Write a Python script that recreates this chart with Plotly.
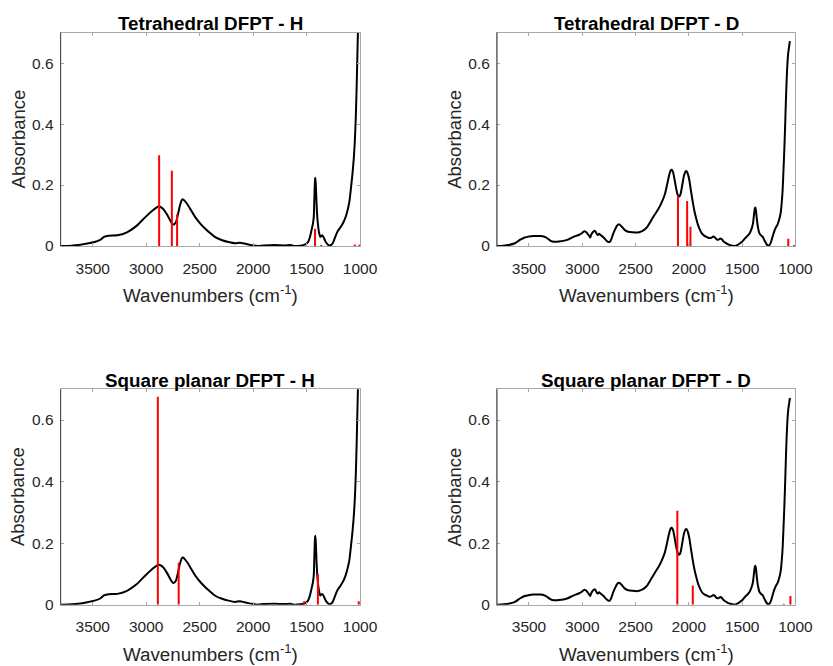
import plotly.graph_objects as go

# ---------------- data ----------------
# Experimental spectrum (H sample), wavenumber (cm-1) / absorbance
H_WAVENUMBER = [3800, 3700, 3635, 3550, 3483, 3430, 3395, 3350, 3270, 3180, 3090, 3010, 2935, 2900,
                2885, 2860, 2840, 2800, 2770, 2750, 2735, 2720, 2700, 2685, 2665, 2655, 2640, 2615,
                2580, 2540, 2490, 2445, 2400, 2355, 2290, 2230, 2170, 2125, 2080, 2045, 2000, 1960,
                1900, 1800, 1700, 1650, 1620, 1560, 1530, 1500, 1485, 1470, 1455, 1440, 1433, 1427,
                1421, 1418, 1413, 1408, 1400, 1394, 1384, 1372, 1362, 1354, 1340, 1325, 1305, 1290,
                1278, 1262, 1248, 1230, 1210, 1180, 1155, 1135, 1115, 1100, 1085, 1070, 1058, 1048,
                1040, 1032, 1026, 1020, 1015]
H_ABSORBANCE = [0.000, 0.001, 0.003, 0.008, 0.013, 0.020, 0.030, 0.034, 0.035, 0.045, 0.066, 0.094, 0.118, 0.127,
                0.130, 0.127, 0.121, 0.100, 0.080, 0.071, 0.072, 0.080, 0.108, 0.132, 0.152, 0.153, 0.148, 0.137,
                0.117, 0.094, 0.072, 0.056, 0.042, 0.029, 0.019, 0.013, 0.009, 0.011, 0.008, 0.005, 0.002, 0.000,
                0.002, 0.003, 0.002, 0.003, 0.000, 0.001, 0.003, 0.008, 0.014, 0.028, 0.050, 0.075, 0.095, 0.160,
                0.218, 0.224, 0.195, 0.150, 0.095, 0.072, 0.045, 0.030, 0.033, 0.035, 0.028, 0.016, 0.006, 0.002,
                0.002, 0.006, 0.015, 0.032, 0.048, 0.063, 0.078, 0.095, 0.120, 0.145, 0.190, 0.240, 0.290, 0.350,
                0.420, 0.520, 0.610, 0.700, 0.780]

# Experimental spectrum (D sample)
D_WAVENUMBER = [3800, 3740, 3693, 3632, 3586, 3540, 3500, 3463, 3420, 3387, 3341, 3300, 3280, 3219,
                3142, 3081, 3030, 3004, 2985, 2965, 2950, 2935, 2925, 2915, 2900, 2882, 2865, 2855,
                2842, 2825, 2800, 2775, 2755, 2740, 2725, 2710, 2690, 2675, 2660, 2645, 2625, 2600,
                2570, 2530, 2480, 2450, 2420, 2390, 2360, 2320, 2285, 2255, 2225, 2205, 2185, 2170,
                2160, 2148, 2135, 2120, 2105, 2090, 2078, 2062, 2045, 2030, 2020, 2008, 1995, 1980,
                1965, 1948, 1933, 1915, 1900, 1880, 1857, 1835, 1811, 1790, 1770, 1755, 1740, 1720,
                1705, 1690, 1675, 1658, 1635, 1612, 1590, 1566, 1545, 1520, 1495, 1474, 1450, 1428,
                1410, 1398, 1388, 1380, 1375, 1369, 1361, 1350, 1337, 1320, 1306, 1290, 1276, 1262,
                1254, 1240, 1230, 1215, 1199, 1185, 1168, 1150, 1138, 1128, 1120, 1112, 1105, 1098,
                1090, 1083, 1075, 1067, 1060, 1052]
D_ABSORBANCE = [0.000, 0.001, 0.003, 0.009, 0.020, 0.028, 0.031, 0.033, 0.033, 0.033, 0.028, 0.018, 0.015, 0.015,
                0.020, 0.030, 0.037, 0.042, 0.048, 0.046, 0.040, 0.033, 0.028, 0.038, 0.046, 0.050, 0.040, 0.036,
                0.040, 0.035, 0.028, 0.018, 0.013, 0.014, 0.025, 0.040, 0.056, 0.066, 0.071, 0.069, 0.062, 0.052,
                0.047, 0.045, 0.044, 0.047, 0.053, 0.063, 0.080, 0.103, 0.122, 0.143, 0.170, 0.200, 0.232, 0.248,
                0.250, 0.242, 0.220, 0.190, 0.168, 0.162, 0.170, 0.200, 0.232, 0.245, 0.245, 0.235, 0.215, 0.180,
                0.148, 0.115, 0.093, 0.070, 0.056, 0.042, 0.034, 0.030, 0.026, 0.027, 0.031, 0.028, 0.022, 0.021,
                0.025, 0.022, 0.015, 0.011, 0.006, 0.003, 0.001, 0.000, 0.003, 0.009, 0.016, 0.025, 0.033, 0.043,
                0.058, 0.075, 0.105, 0.124, 0.126, 0.112, 0.085, 0.058, 0.041, 0.034, 0.030, 0.018, 0.009, 0.002,
                0.000, 0.005, 0.012, 0.030, 0.048, 0.060, 0.070, 0.090, 0.110, 0.145, 0.185, 0.250, 0.310, 0.380,
                0.470, 0.540, 0.600, 0.635, 0.652, 0.672]

# DFPT calculated modes (frequency, intensity)
TD_H_FREQ = [2879, 2760, 2711, 1421, 1363, 1049, 1006]
TD_H_INT = [0.298, 0.247, 0.104, 0.057, 0.003, 0.005, 0.004]
TD_D_FREQ = [2102, 2016, 1985, 1067, 1012]
TD_D_INT = [0.165, 0.148, 0.063, 0.024, 0.003]
SP_H_FREQ = [2891, 2696, 1522, 1394, 1012]
SP_H_INT = [0.676, 0.136, 0.011, 0.100, 0.011]
SP_D_FREQ = [2108, 1963, 1110, 1047]
SP_D_INT = [0.305, 0.062, 0.003, 0.028]

TITLES = ["Tetrahedral DFPT - H", "Tetrahedral DFPT - D",
          "Square planar DFPT - H", "Square planar DFPT - D"]
X_TICKS = [3500, 3000, 2500, 2000, 1500, 1000]
Y_TICKS = [0, 0.2, 0.4, 0.6]
Y_TICKTEXT = ["0", "0.2", "0.4", "0.6"]

# ---------------- layout geometry ----------------
W, H = 833, 666
FONT = "Liberation Sans, Arial, Helvetica, sans-serif"
TXT = "#262626"

# panel pixel boxes (left, right, top, bottom)
boxes = [(62, 368, 33, 249), (508, 813, 33, 249), (62, 368, 394, 612), (508, 813, 394, 612)]

panels = [
    (H_WAVENUMBER, H_ABSORBANCE, TD_H_FREQ, TD_H_INT),
    (D_WAVENUMBER, D_ABSORBANCE, TD_D_FREQ, TD_D_INT),
    (H_WAVENUMBER, H_ABSORBANCE, SP_H_FREQ, SP_H_INT),
    (D_WAVENUMBER, D_ABSORBANCE, SP_D_FREQ, SP_D_INT),
]

fig = go.Figure()
annotations = []
shapes = []
layout_axes = {}

for i, ((cx, cy, sf, si), (l, r, t, b), title) in enumerate(zip(panels, boxes, TITLES)):
    n = i + 1
    xa = "x" if n == 1 else f"x{n}"
    ya = "y" if n == 1 else f"y{n}"
    xkey = "xaxis" if n == 1 else f"xaxis{n}"
    ykey = "yaxis" if n == 1 else f"yaxis{n}"

    fig.add_trace(go.Scatter(x=cx, y=cy, mode="lines", xaxis=xa, yaxis=ya,
                             line=dict(color="black", width=2, shape="spline", smoothing=0.6),
                             showlegend=False, hoverinfo="skip"))
    sx, sy = [], []
    for f, v in zip(sf, si):
        sx += [f, f, None]
        sy += [0, v, None]
    fig.add_trace(go.Scatter(x=sx, y=sy, mode="lines", xaxis=xa, yaxis=ya,
                             line=dict(color="#ff0000", width=2),
                             showlegend=False, hoverinfo="skip"))

    layout_axes[xkey] = dict(
        domain=[l / W, r / W], anchor=ya, range=[3800, 1000], tickvals=X_TICKS,
        ticks="inside", ticklen=3, tickcolor="#a8a8a8", showline=True, linecolor="#a8a8a8",
        linewidth=1, mirror="ticks", showgrid=False, zeroline=False,
        tickfont=dict(family=FONT, size=15.5, color=TXT), ticklabelstandoff=8,
    )
    layout_axes[ykey] = dict(
        domain=[1 - b / H, 1 - t / H], anchor=xa, range=[0, 0.7], tickvals=Y_TICKS,
        ticktext=Y_TICKTEXT, ticks="inside", ticklen=3, tickcolor="#a8a8a8", showline=True,
        linecolor="#a8a8a8", linewidth=1, mirror="ticks", showgrid=False, zeroline=False,
        tickfont=dict(family=FONT, size=15.5, color=TXT), ticklabelstandoff=3,
    )
    # darker left axis line
    shapes.append(dict(type="line", xref=f"{xa} domain", yref=f"{ya} domain", x0=0, x1=0, y0=0, y1=1,
                       line=dict(color="#404040", width=1), layer="above"))

    cxp = (l + r) / 2 / W
    annotations.append(dict(text=f"<b>{title}</b>", x=cxp, y=1 - (t - 9) / H, xref="paper", yref="paper",
                            showarrow=False, xanchor="center", yanchor="middle",
                            font=dict(family=FONT, size=18.8, color="black")))
    annotations.append(dict(text="Wavenumbers (cm<sup>-1</sup>)", x=cxp, y=1 - (b + 49) / H,
                            xref="paper", yref="paper", showarrow=False, xanchor="center",
                            yanchor="middle", font=dict(family=FONT, size=18.8, color=TXT)))
    annotations.append(dict(text="Absorbance", x=(l - 43.5) / W, y=1 - (t + b) / 2 / H,
                            xref="paper", yref="paper", showarrow=False, textangle=-90,
                            xanchor="center", yanchor="middle",
                            font=dict(family=FONT, size=18.5, color=TXT)))

fig.update_layout(
    width=W, height=H, margin=dict(l=0, r=0, t=0, b=0),
    paper_bgcolor="white", plot_bgcolor="white",
    annotations=annotations, shapes=shapes, showlegend=False,
    **layout_axes,
)

fig.write_html("out.html")
